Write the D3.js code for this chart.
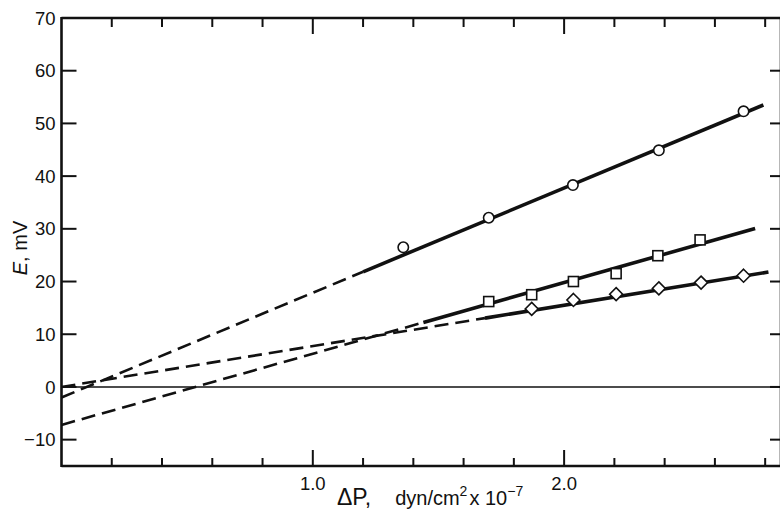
<!DOCTYPE html>
<html>
<head>
<meta charset="utf-8">
<script src="https://cdn.jsdelivr.net/npm/d3@7"></script>
<style>
  body { margin: 0; background: #fff; }
  svg { display: block; font-family: "Liberation Sans", Arial, sans-serif; }
  .tick-label { font-size: 18.5px; fill: #111; }
</style>
</head>
<body>
<svg width="780" height="514"></svg>
<script>
// measured points
const circleX = [1.36, 1.70, 2.035, 2.377, 2.714];
const circleY = [26.5, 32.1, 38.3, 44.9, 52.3];
const squareX = [1.70, 1.871, 2.037, 2.207, 2.373, 2.541];
const squareY = [16.2, 17.5, 20.0, 21.5, 24.9, 27.9];
const diamondX = [1.871, 2.037, 2.207, 2.377, 2.545, 2.714];
const diamondY = [14.8, 16.5, 17.6, 18.7, 19.8, 21.1];

// fitted lines: intercept, slope, where the solid part starts and where it ends
const fitNames = ["circle", "square", "diamond"];
const fitIntercept = [-2.0, -7.2, 0.0];
const fitSlope = [19.87, 13.5, 7.75];
const fitSolidFrom = [1.2, 1.44, 1.685];
const fitEnd = [2.793, 2.76, 2.813];

const xTicks = [0.2, 0.4, 0.6, 0.8, 1.0, 1.2, 1.4, 1.6, 1.8, 2.0, 2.2, 2.4, 2.6, 2.8];
const xLabels = [1.0, 2.0];
const yTicks = [-10, 0, 10, 20, 30, 40, 50, 60, 70];

const svg = d3.select("svg");
const pLeft = 61.5, pRight = 781, pTop = 18, pBottom = 466;

const x = d3.scaleLinear().domain([0, 2.863]).range([pLeft, pRight]);
const y = d3.scaleLinear().domain([-15, 70]).range([pBottom, pTop]);

// zero line
svg.append("line")
    .attr("x1", x(0)).attr("x2", pRight)
    .attr("y1", y(0)).attr("y2", y(0))
    .attr("stroke", "#111").attr("stroke-width", 1.6);

// fit lines, dashed extrapolation then solid
fitNames.forEach((name, i) => {
    const f = v => fitIntercept[i] + fitSlope[i] * v;
    svg.append("line")
        .attr("x1", x(0)).attr("y1", y(f(0)))
        .attr("x2", x(fitSolidFrom[i])).attr("y2", y(f(fitSolidFrom[i])))
        .attr("stroke", "#111").attr("stroke-width", 2.6)
        .attr("stroke-dasharray", "14,7");
    svg.append("line")
        .attr("x1", x(fitSolidFrom[i])).attr("y1", y(f(fitSolidFrom[i])))
        .attr("x2", x(fitEnd[i])).attr("y2", y(f(fitEnd[i])))
        .attr("stroke", "#111").attr("stroke-width", 3.6)
        .attr("stroke-linecap", "butt");
});

// markers
const marks = svg.append("g")
    .attr("fill", "#fff").attr("stroke", "#111").attr("stroke-width", 1.6);

marks.selectAll("circle.c")
    .data(d3.zip(circleX, circleY))
    .join("circle")
    .attr("class", "c")
    .attr("cx", d => x(d[0])).attr("cy", d => y(d[1]))
    .attr("r", 5.2);

marks.selectAll("rect.s")
    .data(d3.zip(squareX, squareY))
    .join("rect")
    .attr("class", "s")
    .attr("x", d => x(d[0]) - 5).attr("y", d => y(d[1]) - 5)
    .attr("width", 10).attr("height", 10);

marks.selectAll("path.d")
    .data(d3.zip(diamondX, diamondY))
    .join("path")
    .attr("class", "d")
    .attr("d", d => {
        const cx = x(d[0]), cy = y(d[1]), r = 6.5;
        return `M${cx},${cy - r}L${cx + r},${cy}L${cx},${cy + r}L${cx - r},${cy}Z`;
    });

// frame
const frame = svg.append("g").attr("stroke", "#111").attr("stroke-width", 2.6);
frame.append("line").attr("x1", pLeft).attr("x2", pLeft).attr("y1", pTop - 1).attr("y2", pBottom + 1);
frame.append("line").attr("x1", pLeft).attr("x2", pRight).attr("y1", pTop).attr("y2", pTop);
frame.append("line").attr("x1", pLeft).attr("x2", pRight).attr("y1", pBottom).attr("y2", pBottom);
frame.append("line").attr("x1", pRight).attr("x2", pRight).attr("y1", pTop).attr("y2", pBottom);

// ticks (inward)
const isMajor = v => Math.abs(v - Math.round(v)) < 1e-6;
frame.selectAll("line.xb")
    .data(xTicks).join("line").attr("class", "xb")
    .attr("x1", d => x(d)).attr("x2", d => x(d))
    .attr("y1", pBottom).attr("y2", d => pBottom - (isMajor(d) ? 16 : 8))
    .attr("stroke-width", 2);
frame.selectAll("line.xtop")
    .data(xTicks).join("line").attr("class", "xtop")
    .attr("x1", d => x(d)).attr("x2", d => x(d))
    .attr("y1", pTop).attr("y2", d => pTop + (isMajor(d) ? 16 : 9))
    .attr("stroke-width", 2);
frame.selectAll("line.yl")
    .data(yTicks.slice(0, -1)).join("line").attr("class", "yl")
    .attr("x1", pLeft).attr("x2", pLeft + 15)
    .attr("y1", d => y(d)).attr("y2", d => y(d))
    .attr("stroke-width", 2);
frame.selectAll("line.yr")
    .data(yTicks.slice(0, -1)).join("line").attr("class", "yr")
    .attr("x1", pRight).attr("x2", pRight - 11)
    .attr("y1", d => y(d)).attr("y2", d => y(d))
    .attr("stroke-width", 2);

// tick labels
svg.selectAll("text.ylab")
    .data(yTicks).join("text")
    .attr("class", "ylab tick-label")
    .attr("x", pLeft - 6).attr("y", d => y(d))
    .attr("dy", "0.36em").attr("text-anchor", "end")
    .text(d => d < 0 ? "\u2212" + Math.abs(d) : d);

svg.selectAll("text.xlab")
    .data(xLabels).join("text")
    .attr("class", "xlab tick-label")
    .attr("x", d => x(d)).attr("y", pBottom + 24)
    .attr("text-anchor", "middle")
    .text(d => d.toFixed(1));

// axis titles
const xt = svg.append("text")
    .attr("x", 337).attr("y", 505)
    .attr("font-size", 20).attr("fill", "#111");
xt.append("tspan").attr("font-size", 23).text("\u0394P,");
xt.append("tspan").attr("dx", 24).text("dyn/cm");
xt.append("tspan").attr("dy", -9).attr("font-size", 14).text("2");
xt.append("tspan").attr("dy", 9).attr("dx", 2).text("x 10");
xt.append("tspan").attr("dy", -9).attr("font-size", 14).text("\u22127");

const yt = svg.append("text")
    .attr("transform", "translate(27,248) rotate(-90)")
    .attr("text-anchor", "middle")
    .attr("font-size", 20).attr("fill", "#111");
yt.append("tspan").attr("font-style", "italic").text("E");
yt.append("tspan").text(",  mV");
</script>
</body>
</html>
